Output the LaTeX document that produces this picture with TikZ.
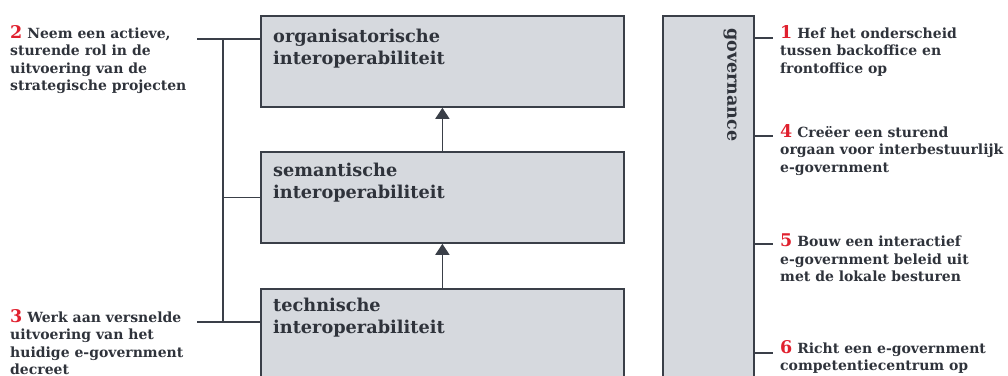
\documentclass[tikz,border=0pt]{standalone}
\usepackage{fontspec}
\setmainfont{DejaVu Serif}
\usetikzlibrary{arrows.meta,calc}
\definecolor{ink}{HTML}{2F333B}
\definecolor{boxfill}{HTML}{D6D9DE}
\definecolor{edge}{HTML}{3A3F48}
\definecolor{numred}{HTML}{E0202E}
\newcommand\itemno[1]{{\color{numred}\fontsize{17.5}{17.6}\selectfont\bfseries #1}}

\begin{document}
\begin{tikzpicture}[x=1pt,y=-1pt,
  layer/.style={draw=edge, line width=1.8pt, fill=boxfill, minimum width=363pt,
    minimum height=91pt, inner sep=0pt, anchor=north west},
  title/.style={anchor=north west, inner sep=0pt, align=left,
    font=\fontsize{17.7}{22}\selectfont\bfseries, text=ink},
  note/.style={anchor=north west, inner sep=0pt, align=left,
    font=\fontsize{14}{17.5}\selectfont\bfseries, text=ink},
  wire/.style={draw=edge, line width=1.5pt},
  lift/.style={draw=edge, line width=1.5pt, -{Triangle[width=14pt,length=11pt]}},
]
\useasboundingbox (0,0) rectangle (1008,375);

% the three interoperability layers
\node[layer] (org) at (260,15) {};
\node[layer] (sem) at (260,151) {};
\node[layer, minimum height=110pt] (tech) at (260,288) {};
\node[title] (orgt) at (273,29) {organisatorische\\interoperabiliteit};
\node[title] (semt) at (273,163) {semantische\\interoperabiliteit};
\node[title] (techt) at (273,298) {technische\\interoperabiliteit};

\draw[lift] (sem.north) -- (org.south);
\draw[lift] (tech.north) -- (sem.south);

% governance column
\node[layer, minimum width=91pt, minimum height=380pt] (gov) at (662,15) {};
\node[rotate=-90, anchor=mid west, inner sep=0pt, text=ink,
  font=\fontsize{17.5}{20}\selectfont\bfseries] (govt) at (730,28) {governance};

% left-hand actions and their bracket
\node[note] (a2) at (10,25) {\itemno{2} Neem een actieve,\\sturende rol in de\\uitvoering van de\\strategische projecten};
\node[note] (a3) at (10,309) {\itemno{3} Werk aan versnelde\\uitvoering van het\\huidige e-government\\decreet};

\coordinate (b2) at (197,39);
\coordinate (b3) at (197,322);
\coordinate (bt) at (223,39);
\coordinate (bb) at (223,322);
\draw[wire] (b2) -- (b2 -| org.west);
\draw[wire] (b3) -- (b3 -| tech.west);
\draw[wire] (bt) -- (bb);
\draw[wire] (bt |- sem.west) -- (sem.west);

% right-hand actions hooked onto governance
\coordinate (r1) at (773,38);
\coordinate (r4) at (773,136);
\coordinate (r5) at (773,244);
\coordinate (r6) at (773,353);
\foreach \r in {r1,r4,r5,r6} \draw[wire] (\r -| gov.east) -- (\r);

\node[note] (a1) at (780,25) {\itemno{1} Hef het onderscheid\\tussen backoffice en\\frontoffice op};
\node[note] (a4) at (780,124) {\itemno{4} Creëer een sturend\\orgaan voor interbestuurlijk\\e-government};
\node[note] (a5) at (780,234) {\itemno{5} Bouw een interactief\\e-government beleid uit\\met de lokale besturen};
\node[note] (a6) at (780,340) {\itemno{6} Richt een e-government\\competentiecentrum op};
\end{tikzpicture}
\end{document}
